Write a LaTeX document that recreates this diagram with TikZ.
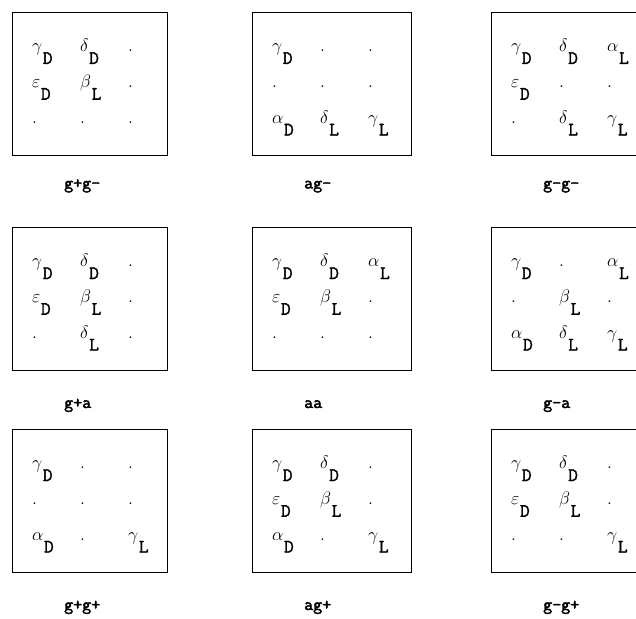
\RequirePackage{fix-cm}
\documentclass[tikz,border=0pt]{standalone}
\usepackage{fontspec}
\usepackage{tikz}
\newfontfamily\subfont{Latin Modern Mono}[FakeBold=1.5]
\newfontfamily\labfont{Latin Modern Mono}[FakeBold=2.5]
\newcommand\ent[2]{$#1$\kern0.5pt\raisebox{-12.5pt}{\subfont\fontsize{19}{21}\selectfont #2}}
\newcommand\dt{$.$}

\begin{document}
\begin{tikzpicture}[x=1pt,y=-1pt,
  cellbox/.style={draw,line width=1.2pt,minimum height=143pt,inner sep=0pt,anchor=north west},
  cell/.style={anchor=base west,inner sep=0pt,font=\fontsize{18}{20}\selectfont},
  lab/.style={anchor=base west,inner sep=0pt,font=\labfont\fontsize{17.5}{19}\selectfont}]
  \useasboundingbox (0,0) rectangle (636,618);
  \clip (0,0) rectangle (636,618);
  % boxes: name/left/width/top/label baseline/label/cells row by row
  \foreach \nm/\bx/\bw/\by/\ly/\lab/\cells in {
    b11/12/155/12/188.5/{g+g-}/{{\ent\gamma D},{\ent\delta D},\dt,{\ent\varepsilon D},{\ent\beta L},\dt,\dt,\dt,\dt},
    b12/252/159/12/188.5/{ag-}/{{\ent\gamma D},\dt,\dt,\dt,\dt,\dt,{\ent\alpha D},{\ent\delta L},{\ent\gamma L}},
    b13/491/160/12/188.5/{g-g-}/{{\ent\gamma D},{\ent\delta D},{\ent\alpha L},{\ent\varepsilon D},\dt,\dt,\dt,{\ent\delta L},{\ent\gamma L}},
    b21/12/155/227/408/{g+a}/{{\ent\gamma D},{\ent\delta D},\dt,{\ent\varepsilon D},{\ent\beta L},\dt,\dt,{\ent\delta L},\dt},
    b22/252/159/227/408/{aa}/{{\ent\gamma D},{\ent\delta D},{\ent\alpha L},{\ent\varepsilon D},{\ent\beta L},\dt,\dt,\dt,\dt},
    b23/491/160/227/408/{g-a}/{{\ent\gamma D},\dt,{\ent\alpha L},\dt,{\ent\beta L},\dt,{\ent\alpha D},{\ent\delta L},{\ent\gamma L}},
    b31/12/155/429/610/{g+g+}/{{\ent\gamma D},\dt,\dt,\dt,\dt,\dt,{\ent\alpha D},\dt,{\ent\gamma L}},
    b32/252/159/429/610/{ag+}/{{\ent\gamma D},{\ent\delta D},\dt,{\ent\varepsilon D},{\ent\beta L},\dt,{\ent\alpha D},\dt,{\ent\gamma L}},
    b33/491/160/429/610/{g-g+}/{{\ent\gamma D},{\ent\delta D},\dt,{\ent\varepsilon D},{\ent\beta L},\dt,\dt,\dt,{\ent\gamma L}}}{
    \node[cellbox,minimum width=\bw pt] (\nm) at (\bx,\by) {};
    \node[lab] (\nm-lab) at (\bx+52,\ly) {\lab};
    \foreach \t [count=\i from 0] in \cells
      \node[cell] (\nm-\i) at ({\bx+20+48*mod(\i,3)},{\by+39.5+35.75*int(\i/3)}) {\t};
  }
\end{tikzpicture}
\end{document}
